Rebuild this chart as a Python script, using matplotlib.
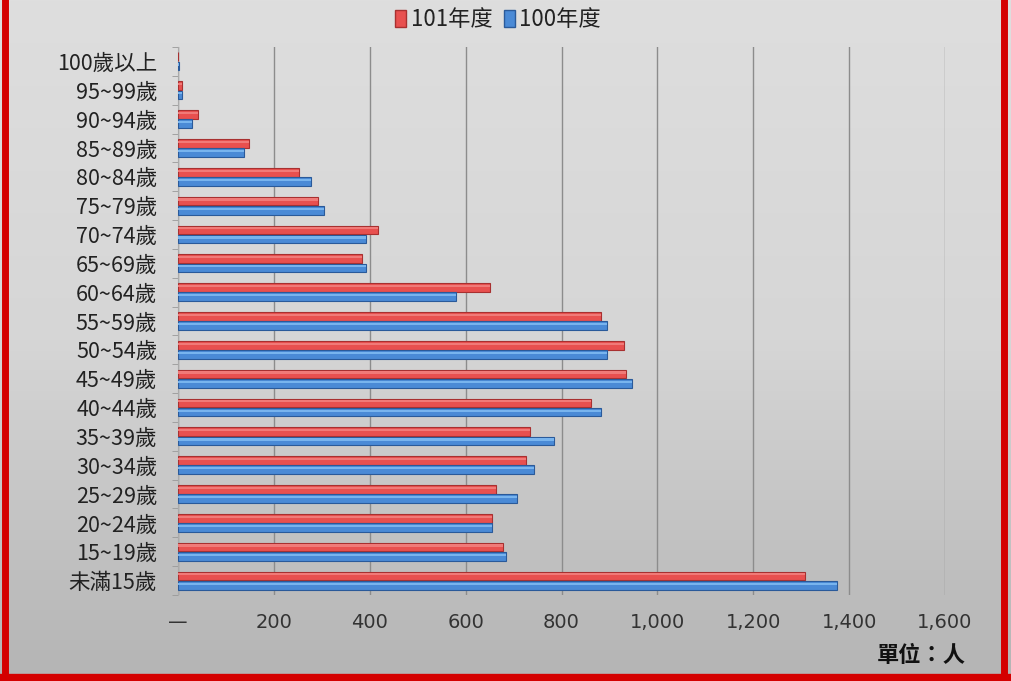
import matplotlib
matplotlib.use("Agg")
import matplotlib.pyplot as plt
import numpy as np
from matplotlib.lines import Line2D
from matplotlib.patches import Patch
from matplotlib.colors import LinearSegmentedColormap

plt.rcParams['font.family'] = ['Noto Sans CJK TC', 'DejaVu Sans']

categories = ["100歲以上", "95~99歲", "90~94歲", "85~89歲", "80~84歲", "75~79歲",
              "70~74歲", "65~69歲", "60~64歲", "55~59歲", "50~54歲", "45~49歲",
              "40~44歲", "35~39歲", "30~34歲", "25~29歲", "20~24歲", "15~19歲", "未滿15歲"]
y101 = [1, 9, 42, 148, 252, 292, 417, 383, 650, 883, 931, 935, 862, 735, 725, 663, 654, 677, 1308]
y100 = [3, 8, 29, 138, 277, 304, 392, 392, 579, 894, 894, 948, 883, 785, 742, 708, 654, 685, 1375]
series_names = ["101年度", "100年度"]
xticks = [0, 200, 400, 600, 800, 1000, 1200, 1400, 1600]
xticklabels = ["—", "200", "400", "600", "800", "1,000", "1,200", "1,400", "1,600"]

W, H = 1011, 681
fig = plt.figure(figsize=(W / 100, H / 100), dpi=100)

# background gradient
bg = fig.add_axes([0, 0, 1, 1], zorder=-10)
grad = np.linspace(0, 1, 256).reshape(-1, 1)
cmap = LinearSegmentedColormap.from_list("g", ["#dedede", "#d6d6d6", "#b4b4b4"])
bg.imshow(grad, aspect="auto", cmap=cmap, extent=[0, 1, 0, 1], origin="upper")
bg.set_xlim(0, 1); bg.set_ylim(0, 1)
bg.axis("off")

ax = fig.add_axes([178 / W, 1 - 595 / H, (945 - 178) / W, (595 - 47) / H])
ax.patch.set_alpha(0)

n = len(categories)
pos = np.arange(n)
h = 0.30
off = 0.16
red = "#e8504f"
blue = "#4a8ad6"
ax.barh(pos - off, y101, height=h, color=red, edgecolor="#a83030", linewidth=0.8, zorder=3)
ax.barh(pos + off, y100, height=h, color=blue, edgecolor="#2a5a9a", linewidth=0.8, zorder=3)
ax.barh(pos - off - h * 0.18, y101, height=h * 0.25, color="#f07a78", linewidth=0, zorder=4)
ax.barh(pos + off - h * 0.18, y100, height=h * 0.25, color="#78b4ee", linewidth=0, zorder=4)

ax.set_xlim(0, 1600)
ax.set_ylim(n - 0.5, -0.5)
ax.set_xticks(xticks)
ax.set_xticklabels(xticklabels, fontsize=14, color="#333333", family=['DejaVu Sans'])
ax.set_yticks(pos)
ax.set_yticklabels(categories, fontsize=15.5, color="#222222")
ax.tick_params(axis="y", length=0, pad=15)
ax.tick_params(axis="x", length=0, pad=13)
ax.set_yticks(np.arange(n + 1) - 0.5, minor=True)
ax.tick_params(axis="y", which="minor", length=4, color="#999999", direction="out")
ax.grid(axis="x", color="#8c8c8c", linewidth=1.0, zorder=0)
for s in ["top", "right", "bottom"]:
    ax.spines[s].set_visible(False)
ax.spines["left"].set_color("#aaaaaa")
ax.spines["left"].set_linewidth(0.8)

# legend
handles = [Patch(facecolor=red, edgecolor="#a83030"), Patch(facecolor=blue, edgecolor="#2a5a9a")]
fig.legend(handles, series_names, loc="center", bbox_to_anchor=(498 / W, 1 - 20 / H), ncol=2,
           frameon=False, fontsize=16, handlelength=0.5, handleheight=0.8, handletextpad=0.2,
           columnspacing=0.5, labelcolor="#222222")

fig.text(966 / W, 1 - 655 / H, "單位：人", ha="right", va="center", fontsize=16,
         color="#111111", fontweight="bold")

# red border
bcol = "#d40000"
fig.add_artist(Line2D([5 / W, 5 / W], [0, 1], color=bcol, linewidth=5, transform=fig.transFigure))
fig.add_artist(Line2D([1004 / W, 1004 / W], [0, 1], color=bcol, linewidth=5, transform=fig.transFigure))
fig.add_artist(Line2D([0, 1], [3 / H, 3 / H], color=bcol, linewidth=6, transform=fig.transFigure))

fig.savefig("out.png", dpi=100)
